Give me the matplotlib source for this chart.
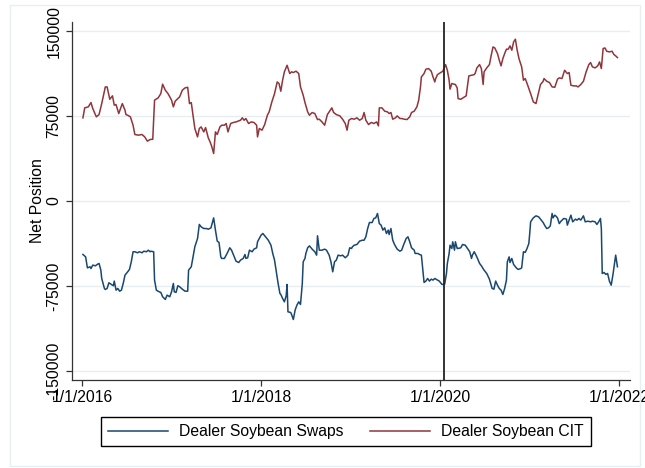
import matplotlib
matplotlib.use("Agg")
import matplotlib.pyplot as plt
from matplotlib.patches import Rectangle

# dates as decimal years, positions in contracts
cit_year = [
    2016.01, 2016.03, 2016.07, 2016.10, 2016.12, 2016.16, 2016.19, 2016.22, 2016.26, 2016.28,
    2016.31, 2016.34, 2016.36, 2016.38, 2016.41, 2016.45, 2016.48, 2016.49, 2016.51, 2016.54,
    2016.57, 2016.59, 2016.63, 2016.67, 2016.70, 2016.73, 2016.76, 2016.79, 2016.81, 2016.85,
    2016.88, 2016.90, 2016.93, 2016.96, 2017.00, 2017.02, 2017.04, 2017.09, 2017.12, 2017.15,
    2017.18, 2017.20, 2017.22, 2017.25, 2017.26, 2017.29, 2017.31, 2017.33, 2017.36, 2017.38,
    2017.41, 2017.43, 2017.45, 2017.47, 2017.49, 2017.51, 2017.54, 2017.56, 2017.59, 2017.61,
    2017.63, 2017.66, 2017.69, 2017.72, 2017.75, 2017.77, 2017.79, 2017.81, 2017.83, 2017.86,
    2017.89, 2017.92, 2017.95, 2017.96, 2017.98, 2018.01, 2018.04, 2018.07, 2018.09, 2018.12,
    2018.15, 2018.18, 2018.20, 2018.22, 2018.24, 2018.26, 2018.29, 2018.32, 2018.34, 2018.36,
    2018.39, 2018.42, 2018.44, 2018.47, 2018.49, 2018.52, 2018.54, 2018.57, 2018.60, 2018.63,
    2018.65, 2018.68, 2018.71, 2018.74, 2018.76, 2018.79, 2018.81, 2018.84, 2018.88, 2018.91,
    2018.94, 2018.96, 2018.98, 2019.01, 2019.04, 2019.07, 2019.10, 2019.13, 2019.15, 2019.17,
    2019.20, 2019.23, 2019.26, 2019.29, 2019.31, 2019.32, 2019.35, 2019.38, 2019.41, 2019.43,
    2019.45, 2019.47, 2019.50, 2019.52, 2019.55, 2019.57, 2019.60, 2019.63, 2019.66, 2019.68,
    2019.71, 2019.74, 2019.76, 2019.78, 2019.79, 2019.82, 2019.84, 2019.87, 2019.90, 2019.92,
    2019.94, 2019.95, 2019.97, 2020.00, 2020.03, 2020.06, 2020.08, 2020.10, 2020.11, 2020.13,
    2020.17, 2020.19, 2020.20, 2020.23, 2020.26, 2020.29, 2020.32, 2020.35, 2020.38, 2020.39,
    2020.41, 2020.44, 2020.46, 2020.48, 2020.49, 2020.52, 2020.55, 2020.57, 2020.59, 2020.61,
    2020.64, 2020.66, 2020.68, 2020.70, 2020.72, 2020.74, 2020.76, 2020.78, 2020.80, 2020.82,
    2020.84, 2020.86, 2020.88, 2020.91, 2020.93, 2020.95, 2020.98, 2021.01, 2021.04, 2021.07,
    2021.10, 2021.12, 2021.15, 2021.16, 2021.19, 2021.22, 2021.25, 2021.28, 2021.31, 2021.33,
    2021.36, 2021.39, 2021.42, 2021.44, 2021.46, 2021.49, 2021.52, 2021.54, 2021.57, 2021.60,
    2021.63, 2021.66, 2021.68, 2021.70, 2021.73, 2021.76, 2021.78, 2021.80, 2021.82, 2021.84,
    2021.86, 2021.89, 2021.92, 2021.94, 2021.96, 2021.98,
]
cit_pos = [
    73400, 82200, 83100, 86900, 81600, 74300, 76300, 86000, 100700, 100700,
    89800, 92800, 84600, 85100, 77200, 86000, 80100, 76300, 75700, 74300,
    66900, 58700, 58100, 58700, 56600, 52800, 54300, 54500, 89000, 91000,
    94800, 103100, 97800, 94800, 89000, 83100, 88100, 91900, 97800, 99800,
    100400, 86000, 86900, 69800, 64000, 56600, 64000, 65400, 61000, 64800,
    55700, 52200, 47800, 41900, 61000, 58700, 65400, 66900, 66900, 68400,
    61000, 68400, 69300, 69800, 70700, 71300, 73400, 71300, 72800, 68400,
    69800, 69300, 66900, 56600, 64000, 62500, 67500, 75700, 78700, 87500,
    94800, 105100, 103700, 96900, 106600, 114000, 119800, 112500, 114000, 113400,
    114600, 112500, 100700, 93400, 86900, 78700, 75700, 78100, 77200, 71900,
    72200, 69800, 66900, 76300, 78700, 82200, 78100, 76300, 75100, 72200,
    68400, 62500, 71300, 72800, 72200, 73400, 71300, 72800, 78100, 71300,
    67500, 69300, 68400, 69800, 66300, 82200, 82200, 79300, 78700, 77200,
    78100, 72200, 73400, 75100, 72800, 72800, 72200, 71900, 74300, 78100,
    79300, 83100, 89000, 100700, 109500, 112500, 116300, 116900, 114600, 109500,
    105100, 108100, 111600, 113100, 114600, 120400, 115400, 106600, 98700, 103700,
    102800, 99800, 90400, 89800, 91300, 92800, 110400, 111000, 111600, 112500,
    117500, 120400, 116900, 102800, 114000, 117500, 120400, 128700, 136000, 135100,
    130100, 124300, 119300, 125700, 130100, 134000, 134000, 136900, 133100, 140400,
    142800, 133100, 125700, 118400, 106600, 108100, 101600, 94800, 87500, 86000,
    96300, 102800, 105700, 108100, 105700, 104600, 100700, 100400, 107500, 108700,
    108100, 115400, 112500, 113400, 102200, 101600, 101600, 100700, 102800, 105700,
    114000, 120400, 122200, 118400, 117500, 119300, 122800, 116900, 134600, 135100,
    132200, 131600, 132200, 129300, 128100, 126600,
]

swap_year = [
    2016.01, 2016.04, 2016.06, 2016.09, 2016.10, 2016.12, 2016.15, 2016.17, 2016.19, 2016.21,
    2016.22, 2016.25, 2016.26, 2016.28, 2016.30, 2016.33, 2016.35, 2016.36, 2016.38, 2016.40,
    2016.42, 2016.44, 2016.46, 2016.48, 2016.51, 2016.53, 2016.55, 2016.57, 2016.59, 2016.62,
    2016.64, 2016.67, 2016.69, 2016.72, 2016.74, 2016.76, 2016.77, 2016.80, 2016.81, 2016.83,
    2016.86, 2016.88, 2016.90, 2016.93, 2016.95, 2016.98, 2017.00, 2017.02, 2017.03, 2017.05,
    2017.07, 2017.09, 2017.12, 2017.15, 2017.18, 2017.19, 2017.22, 2017.24, 2017.26, 2017.29,
    2017.31, 2017.33, 2017.36, 2017.39, 2017.41, 2017.44, 2017.47, 2017.49, 2017.51, 2017.53,
    2017.55, 2017.56, 2017.59, 2017.62, 2017.65, 2017.67, 2017.70, 2017.72, 2017.75, 2017.77,
    2017.80, 2017.82, 2017.83, 2017.85, 2017.87, 2017.90, 2017.92, 2017.95, 2017.96, 2017.98,
    2018.00, 2018.02, 2018.05, 2018.08, 2018.11, 2018.13, 2018.15, 2018.17, 2018.19, 2018.21,
    2018.22, 2018.24, 2018.26, 2018.28, 2018.29, 2018.30, 2018.33, 2018.34, 2018.36, 2018.38,
    2018.40, 2018.42, 2018.44, 2018.46, 2018.47, 2018.49, 2018.50, 2018.52, 2018.54, 2018.57,
    2018.60, 2018.62, 2018.63, 2018.65, 2018.68, 2018.71, 2018.73, 2018.76, 2018.78, 2018.80,
    2018.82, 2018.84, 2018.86, 2018.89, 2018.91, 2018.94, 2018.97, 2018.99, 2019.01, 2019.02,
    2019.04, 2019.07, 2019.10, 2019.13, 2019.15, 2019.17, 2019.19, 2019.21, 2019.24, 2019.26,
    2019.28, 2019.30, 2019.32, 2019.34, 2019.36, 2019.38, 2019.40, 2019.42, 2019.43, 2019.45,
    2019.47, 2019.49, 2019.52, 2019.55, 2019.57, 2019.59, 2019.62, 2019.64, 2019.66, 2019.68,
    2019.71, 2019.72, 2019.75, 2019.77, 2019.79, 2019.81, 2019.82, 2019.84, 2019.86, 2019.88,
    2019.90, 2019.92, 2019.94, 2019.97, 2019.99, 2020.02, 2020.05, 2020.07, 2020.08, 2020.10,
    2020.11, 2020.13, 2020.14, 2020.16, 2020.17, 2020.19, 2020.20, 2020.23, 2020.25, 2020.28,
    2020.30, 2020.33, 2020.35, 2020.36, 2020.38, 2020.40, 2020.42, 2020.44, 2020.46, 2020.49,
    2020.52, 2020.55, 2020.58, 2020.60, 2020.62, 2020.64, 2020.66, 2020.68, 2020.70, 2020.72,
    2020.74, 2020.75, 2020.77, 2020.78, 2020.80, 2020.82, 2020.85, 2020.87, 2020.90, 2020.91,
    2020.93, 2020.95, 2020.97, 2020.99, 2021.00, 2021.01, 2021.04, 2021.07, 2021.10, 2021.12,
    2021.15, 2021.17, 2021.19, 2021.21, 2021.23, 2021.25, 2021.26, 2021.28, 2021.29, 2021.31,
    2021.33, 2021.35, 2021.38, 2021.41, 2021.42, 2021.44, 2021.46, 2021.48, 2021.51, 2021.53,
    2021.55, 2021.57, 2021.60, 2021.62, 2021.65, 2021.68, 2021.70, 2021.73, 2021.75, 2021.77,
    2021.79, 2021.80, 2021.81, 2021.83, 2021.85, 2021.87, 2021.89, 2021.91, 2021.93, 2021.95,
    2021.96, 2021.98,
]
swap_pos = [
    -47200, -49300, -59000, -58100, -59600, -56600, -57200, -56000, -55100, -61000,
    -68400, -77200, -78100, -77200, -72200, -73700, -74800, -70700, -78700, -77200,
    -79600, -78700, -72800, -65400, -62500, -60400, -53700, -44800, -44800, -45700,
    -44800, -45700, -44300, -44800, -43400, -44800, -44300, -44800, -69800, -78700,
    -80100, -80700, -84500, -86900, -83100, -84500, -80100, -72800, -80100, -80700,
    -74800, -75700, -77800, -79600, -79600, -61000, -58100, -49300, -40400, -33100,
    -20700, -22800, -24300, -24300, -24900, -23700, -14900, -25700, -35400, -36600,
    -49300, -50700, -50700, -46300, -41300, -43400, -49300, -53100, -54300, -52200,
    -50700, -47200, -50700, -50100, -43400, -44800, -42500, -41300, -36000, -33100,
    -30100, -28700, -31600, -34600, -39000, -46300, -52200, -62500, -72800, -81600,
    -82500, -86000, -89000, -83700, -73700, -97800, -98400, -100100, -104600, -96300,
    -91900, -89000, -91300, -72800, -53700, -50700, -46300, -41300, -39600, -42500,
    -44800, -47800, -30700, -43400, -43400, -42500, -43400, -47800, -53700, -62500,
    -53700, -52200, -47800, -48400, -47800, -50100, -47800, -41300, -41900, -40400,
    -39000, -38400, -35400, -34600, -34600, -31600, -24300, -19000, -19000, -15400,
    -14900, -11000, -19900, -21300, -25700, -23700, -28700, -25700, -29600, -24300,
    -34600, -38400, -42500, -44300, -43400, -39000, -33100, -31600, -36000, -41300,
    -43400, -46300, -46300, -47200, -47800, -64000, -71900, -70700, -68400, -70700,
    -69000, -69800, -68400, -69800, -70700, -73700, -73400, -64000, -55100, -46300,
    -39000, -41900, -36000, -43400, -36000, -41900, -41900, -41300, -38400, -39000,
    -41300, -44800, -50700, -47800, -44800, -47800, -51300, -55100, -57200, -61000,
    -64000, -69000, -77200, -77800, -70700, -74300, -77200, -78700, -82500, -77200,
    -69800, -53700, -49300, -54300, -50700, -56000, -59000, -60400, -59600, -59000,
    -44800, -45400, -41900, -37500, -28700, -18400, -14900, -13100, -14000, -16000,
    -19000, -21900, -24300, -23700, -21900, -11000, -14900, -12500, -13100, -14900,
    -19900, -17800, -15400, -16000, -21300, -16900, -12500, -18400, -16000, -16900,
    -15400, -16900, -13100, -18400, -17800, -18400, -17800, -18400, -20700, -18400,
    -15400, -24300, -64000, -63100, -64800, -64000, -70700, -74300, -64800, -53700,
    -47800, -58100,
]

y_ticks = [-150000, -75000, 0, 75000, 150000]
x_ticks = [2016, 2018, 2020, 2022]
x_labels = ["1/1/2016", "1/1/2018", "1/1/2020", "1/1/2022"]
event_year = 2020.04  # phase one deal, mid January 2020

plt.rcParams['font.family'] = ['Liberation Sans', 'DejaVu Sans']

fig = plt.figure(figsize=(6.45, 4.68), dpi=100)
fig.patches.append(Rectangle((10 / 645, 2 / 468), 630 / 645, 461 / 468,
                             transform=fig.transFigure, fill=False,
                             edgecolor='#e8eff2', linewidth=1))
ax = fig.add_axes([72 / 645, 88 / 468, 558 / 645, 358 / 468])

ax.plot(swap_year, swap_pos, color='#1a476f', linewidth=1.1,
        label='Dealer Soybean Swaps')
ax.plot(cit_year, cit_pos, color='#90353b', linewidth=1.1,
        label='Dealer Soybean CIT')
ax.axvline(event_year, color='#222222', linewidth=1.3)

ax.set_xlim(2015.888, 2022.12)
ax.set_ylim(-158000, 158000)
ax.set_yticks(y_ticks)
ax.set_yticklabels([str(v) for v in y_ticks], rotation=90, va='center')
ax.set_xticks(x_ticks)
ax.set_xticklabels(x_labels)
ax.tick_params(labelsize=11.3, length=4.5, width=0.9, color='#333333', pad=3)
ax.grid(axis='y', color='#e6eef1', linewidth=1)
ax.set_axisbelow(True)
for side in ['top', 'right']:
    ax.spines[side].set_visible(False)
for side in ['left', 'bottom']:
    ax.spines[side].set_color('#333333')
    ax.spines[side].set_linewidth(0.9)
ax.set_ylabel("Net Position", fontsize=11.3, labelpad=1)

fig.legend(loc='center', bbox_to_anchor=(346 / 645, 1 - 431.5 / 468), ncol=2,
           fontsize=11.3, frameon=True, fancybox=False, edgecolor='black',
           framealpha=1, handlelength=3.8, handletextpad=0.7,
           columnspacing=1.7, borderpad=0.45)

fig.savefig("out.png", dpi=100, facecolor='white')
